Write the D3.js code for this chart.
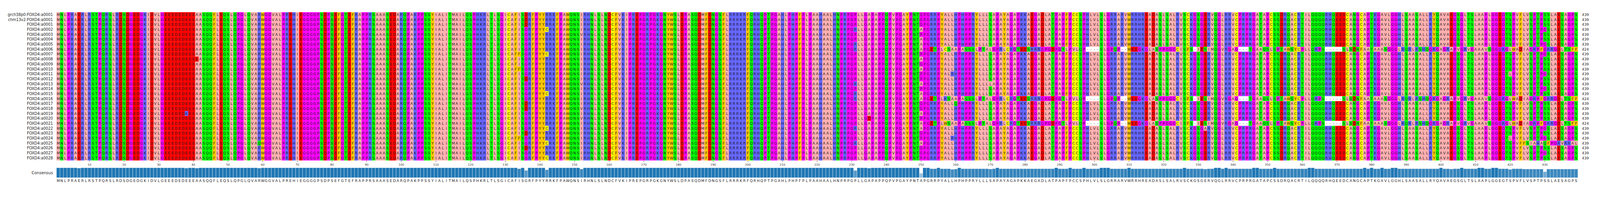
<!DOCTYPE html>
<html>
<head>
<meta charset="utf-8">
<script src="https://cdn.jsdelivr.net/npm/d3@7"></script>
<style>
  html, body { margin: 0; padding: 0; background: #fff; overflow: hidden; }
  svg { display: block; width: 100vw; height: auto; }
  svg text { font-family: "DejaVu Sans", sans-serif; }
</style>
</head>
<body>
<svg id="chart" viewBox="0 0 4654 567" preserveAspectRatio="xMinYMin meet"></svg>
<script>

// consensus sequence, split by the chunks it was read in
var consensusParts = [
    'MNLPRAERLRSTPQRSLRDSDGEDGKIDVLGEEEDEDEEEAASQQFLEQSLQPGL',
    'QVARWGGVALPREHIEGGGGPSDPSEFGTEFRAPPRSAAASEDARQPAKPPSSYI',
    'ALITMAILQSPHKRLTLSGICAFISGRFPYYRRKFPAWQNSIRHNLSLNDCFVKI',
    'PREPGRPGKGNYWSLDPASQDMFDNGSFLRRRKRFQRHQPTPGAHLPHPFPLPAA',
    'HAALHNPRPGPLLGAPAPPQPVPGAYPNTAPGRRPYALLHPHPPRYLLLSAPAYAG',
    'APKKAEGADLATPAPFPCCSPHLVLSLGRRARVWRRHREADASLSALRVSCKGSG',
    'ERVQGLRRVCPRPRGATAPCSSDRQACRTILQQQQRHQEEDCANGCAPTKGAVLGG',
    'HLSAASALLRYQAVAEGSGLTSLAAPLGGEGTSPVFLVSPTPSSLAESAGPS'
];

var rowNames = [ 'grch38p0:FOXD4:a0001', 'chm13v2:FOXD4:a0001' ];
for ( var n = 1; n <= 28; n++ ) {
    rowNames.push( 'FOXD4:a' + d3.format( '04d' )( n ) );
}

// point substitutions: [ column, residue, rows ]
var substitutions = [
    [ 7, 'D', [ 17 ] ],
    [ 38, 'K', [ 20 ] ],
    [ 41, 'E', [ 9 ] ],
    [ 59, 'Q', [ 26 ] ],
    [ 134, 'F', [ 8, 11, 25 ] ],
    [ 136, 'D', [ 0, 1, 2, 13, 18, 19, 24, 27 ] ],
    [ 142, 'C', [ 3, 8, 16, 23, 26, 29 ] ],
    [ 152, 'V', [ 4, 14, 19, 21 ] ],
    [ 231, 'R', [ 3, 6, 7, 14, 16, 17, 23, 26 ] ],
    [ 235, 'D', [ 21 ] ],
    [ 250, 'G', [ 0, 1, 2, 10, 18, 19, 24, 27, 28 ] ],
    [ 250, 'P', [ 4, 8, 12, 13, 15, 21, 25, 29 ] ],
    [ 259, 'R', [ 12, 25 ] ],
    [ 260, 'Q', [ 18 ] ],
    [ 270, 'L', [ 14 ] ],
    [ 332, 'A', [ 23 ] ],
    [ 403, 'D', [ 24 ] ],
    [ 420, 'L', [ 12, 25 ] ],
    [ 430, 'G', [ 3, 6, 8, 12, 15, 23, 25, 28 ] ]
];

// frameshifted tails: [ start column, sequence, rows ]
var frameshiftSeq = 'ETPLCSAAPASSSLPTALGPRLCR' +
    'GTEESRRRGPGDPGTLPVLQP----SLGPQP--WEEGKGLASPPGGGCISFS-IE' +
    'SIMQGVRGAG---TGAAQSLSPTAWSYCPLLQRPS-----SLSDNFAATAAASGGG' +
    'LRQRLRSHQGRGAGRAPVGRVGAAAVSGGGRGLWADIAGRPFGRRGDLTSFF';
var tails = [
    [ 253, frameshiftSeq, [ 7, 17, 22 ] ],
    [ 424, 'FSIAHAQFPGRVRRAL', [ 26 ] ]
];
// single residue differences inside the frameshift
var tailFixes = [ [ 257, 'R', [ 17 ] ], [ 257, 'W', [ 22 ] ] ];

var zappo = {
    I: '#ffafaf', L: '#ffafaf', V: '#ffafaf', A: '#ffafaf', M: '#ffafaf',
    F: '#ffc800', W: '#ffc800', Y: '#ffc800',
    K: '#6464ff', R: '#6464ff', H: '#6464ff',
    D: '#ff0000', E: '#ff0000',
    S: '#00ff00', T: '#00ff00', N: '#00ff00', Q: '#00ff00',
    P: '#ff00ff', G: '#ff00ff',
    C: '#ffff00',
    '-': '#ffffff'
};

// ---- build the alignment
var consensus = consensusParts.join( '' ).split( '' ),
    nCols = consensus.length,
    rows = rowNames.map( function() { return consensus.slice(); } );

function put( col, aa, rowList ) {
    rowList.forEach( function( r ) { rows[ r ][ col - 1 ] = aa; } );
}
substitutions.forEach( function( s ) { put( s[ 0 ], s[ 1 ], s[ 2 ] ); } );
tails.forEach( function( t ) {
    t[ 1 ].split( '' ).forEach( function( aa, i ) { put( t[ 0 ] + i, aa, t[ 2 ] ); } );
} );
tailFixes.forEach( function( s ) { put( s[ 0 ], s[ 1 ], s[ 2 ] ); } );

var conservation = consensus.map( function( aa, c ) {
    return d3.sum( rows, function( r ) { return r[ c ] === aa ? 1 : 0; } ) / rows.length;
} );

// ---- scales
var svg = d3.select( '#chart' ),
    x = d3.scaleBand().domain( d3.range( 1, nCols + 1 ) ).range( [ 164.4, 164.4 + nCols * 10.08 ] ),
    y = d3.scaleBand().domain( d3.range( rows.length ) ).range( [ 35.5, 35.5 + rows.length * 14.4 ] ),
    barTop = 489,
    barBottom = 518,
    h = d3.scaleLinear().domain( [ 0, 1 ] ).range( [ 0, barBottom - barTop ] ),
    shade = d3.scaleLinear().domain( [ 0.3, 1 ] ).range( [ '#b4d1e8', '#1f77b4' ] ).clamp( true );

var cells = [];
rows.forEach( function( r, ri ) {
    r.forEach( function( aa, ci ) { cells.push( { row: ri, col: ci + 1, aa: aa } ); } );
} );

svg.append( 'g' ).selectAll( 'rect' )
    .data( cells )
    .enter().append( 'rect' )
    .attr( 'x', function( d ) { return x( d.col ); } )
    .attr( 'y', function( d ) { return y( d.row ); } )
    .attr( 'width', x.bandwidth() + 0.3 )
    .attr( 'height', y.bandwidth() + 0.3 )
    .attr( 'fill', function( d ) { return zappo[ d.aa ]; } );

svg.append( 'g' ).selectAll( 'text' )
    .data( cells )
    .enter().append( 'text' )
    .attr( 'x', function( d ) { return x( d.col ) + x.bandwidth() / 2; } )
    .attr( 'y', function( d ) { return y( d.row ) + y.bandwidth() / 2 + 4; } )
    .attr( 'text-anchor', 'middle' )
    .attr( 'font-size', 10.5 )
    .attr( 'fill', '#222' )
    .text( function( d ) { return d.aa; } );

// row labels and lengths
svg.append( 'g' ).selectAll( 'text' )
    .data( rowNames )
    .enter().append( 'text' )
    .attr( 'x', 154 )
    .attr( 'y', function( d, i ) { return y( i ) + y.bandwidth() / 2 + 4; } )
    .attr( 'text-anchor', 'end' )
    .attr( 'font-size', 11 )
    .attr( 'fill', '#222' )
    .text( function( d ) { return d; } );

svg.append( 'g' ).selectAll( 'text' )
    .data( rows )
    .enter().append( 'text' )
    .attr( 'x', x( nCols ) + x.bandwidth() + 12 )
    .attr( 'y', function( d, i ) { return y( i ) + y.bandwidth() / 2 + 4; } )
    .attr( 'font-size', 10.5 )
    .attr( 'fill', '#222' )
    .text( function( d ) { return d.filter( function( a ) { return a !== '-'; } ).length; } );

// position axis
var ticks = d3.range( 10, nCols + 1, 10 ),
    axisY = y.range()[ 1 ];
var axis = svg.append( 'g' ).selectAll( 'g' ).data( ticks ).enter().append( 'g' )
    .attr( 'transform', function( d ) { return 'translate(' + ( x( d ) + x.bandwidth() / 2 ) + ',' + axisY + ')'; } );
axis.append( 'line' ).attr( 'y1', 1 ).attr( 'y2', 5 ).attr( 'stroke', '#333' );
axis.append( 'text' ).attr( 'y', 15 ).attr( 'text-anchor', 'middle' )
    .attr( 'font-size', 8.5 ).attr( 'fill', '#333' ).text( function( d ) { return d; } );

// consensus bars
svg.append( 'g' ).selectAll( 'rect' )
    .data( conservation )
    .enter().append( 'rect' )
    .attr( 'x', function( d, i ) { return x( i + 1 ); } )
    .attr( 'y', function( d ) { return barBottom - h( d ); } )
    .attr( 'width', x.bandwidth() )
    .attr( 'height', function( d ) { return h( d ); } )
    .attr( 'fill', function( d ) { return shade( d ); } )
    .attr( 'stroke', '#dfe9f3' )
    .attr( 'stroke-width', 0.8 );

svg.append( 'g' ).selectAll( 'text' )
    .data( consensus )
    .enter().append( 'text' )
    .attr( 'x', function( d, i ) { return x( i + 1 ) + x.bandwidth() / 2; } )
    .attr( 'y', 531 )
    .attr( 'text-anchor', 'middle' )
    .attr( 'font-size', 10.5 )
    .attr( 'fill', '#222' )
    .text( function( d ) { return d; } );

svg.append( 'text' )
    .attr( 'x', 154 )
    .attr( 'y', 508 )
    .attr( 'text-anchor', 'end' )
    .attr( 'font-size', 11.5 )
    .attr( 'fill', '#222' )
    .text( 'Consensus' );

</script>
</body>
</html>
